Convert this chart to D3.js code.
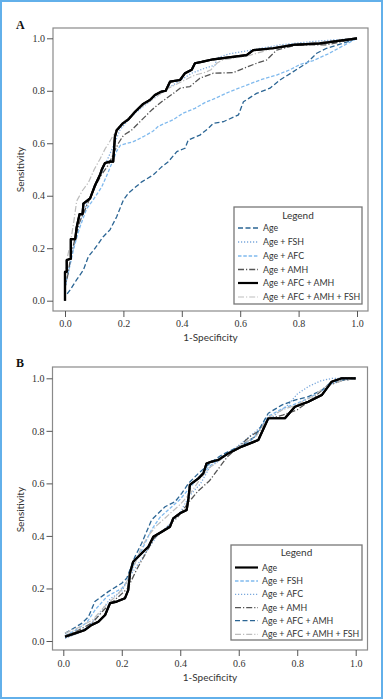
<!DOCTYPE html>
<html><head><meta charset="utf-8">
<script src="https://cdn.jsdelivr.net/npm/d3@7"></script>
<style>html,body{margin:0;padding:0;background:#fff;}svg{display:block;}</style>
</head><body>
<svg id="c" width="384" height="700"></svg>
<script>
// ---------- DATA ----------
const tickValues = [0, 0.2, 0.4, 0.6, 0.8, 1.0];
const tickLabels = ["0.0", "0.2", "0.4", "0.6", "0.8", "1.0"];
const xTitle = "1-Specificity";
const yTitle = "Sensitivity";
const legendTitle = "Legend";

// Panel A series: [1-specificity, sensitivity]
const seriesNamesA = ["Age", "Age + FSH", "Age + AFC", "Age + AMH", "Age + AFC + AMH", "Age + AFC + AMH + FSH"];
const aAge = [[0,0.0],[0,0.015],[0.017,0.04],[0.04,0.08],[0.063,0.117],[0.08,0.168],[0.103,0.2],[0.131,0.244],[0.154,0.27],[0.177,0.32],[0.2,0.384],[0.217,0.41],[0.263,0.453],[0.302,0.479],[0.331,0.51],[0.354,0.53],[0.383,0.568],[0.411,0.581],[0.422,0.612],[0.462,0.631],[0.491,0.657],[0.508,0.676],[0.542,0.682],[0.594,0.708],[0.611,0.758],[0.656,0.79],[0.702,0.81],[0.736,0.841],[0.782,0.873],[0.827,0.905],[0.862,0.943],[0.896,0.962],[0.953,0.981],[1,1]];
const aFSH = [[0,0],[0,0.06],[0.01,0.1],[0.025,0.18],[0.035,0.23],[0.045,0.27],[0.06,0.33],[0.075,0.37],[0.09,0.4],[0.11,0.45],[0.13,0.5],[0.15,0.55],[0.17,0.6],[0.188,0.65],[0.21,0.68],[0.245,0.72],[0.297,0.765],[0.343,0.803],[0.388,0.835],[0.434,0.867],[0.479,0.886],[0.514,0.898],[0.52,0.925],[0.56,0.94],[0.622,0.952],[0.736,0.975],[0.85,0.988],[1,1]];
const aAFC = [[0,0],[0,0.05],[0.011,0.105],[0.028,0.19],[0.04,0.24],[0.051,0.28],[0.074,0.35],[0.097,0.385],[0.126,0.434],[0.148,0.49],[0.165,0.536],[0.177,0.57],[0.19,0.593],[0.234,0.606],[0.268,0.625],[0.3,0.645],[0.32,0.665],[0.371,0.69],[0.405,0.715],[0.445,0.733],[0.479,0.755],[0.508,0.768],[0.565,0.797],[0.668,0.841],[0.725,0.86],[0.77,0.88],[0.805,0.9],[0.85,0.915],[0.9,0.94],[0.95,0.97],[1,1]];
const aAMH = [[0,0],[0,0.05],[0.01,0.1],[0.02,0.17],[0.035,0.24],[0.05,0.3],[0.07,0.35],[0.1,0.43],[0.125,0.48],[0.15,0.52],[0.17,0.57],[0.183,0.6],[0.2,0.63],[0.228,0.65],[0.263,0.689],[0.297,0.727],[0.331,0.758],[0.371,0.79],[0.394,0.81],[0.428,0.816],[0.462,0.848],[0.508,0.867],[0.576,0.869],[0.656,0.905],[0.69,0.917],[0.725,0.955],[0.793,0.975],[0.896,0.975],[1,1]];
const aAFCAMH = [[0,0],[0,0.11],[0.006,0.11],[0.006,0.155],[0.02,0.16],[0.02,0.235],[0.035,0.235],[0.04,0.28],[0.05,0.33],[0.06,0.33],[0.063,0.37],[0.086,0.39],[0.103,0.44],[0.12,0.48],[0.126,0.5],[0.137,0.525],[0.154,0.53],[0.165,0.53],[0.171,0.625],[0.177,0.65],[0.199,0.677],[0.216,0.69],[0.24,0.72],[0.268,0.75],[0.291,0.765],[0.308,0.784],[0.331,0.797],[0.345,0.8],[0.36,0.835],[0.394,0.841],[0.411,0.867],[0.434,0.88],[0.445,0.905],[0.468,0.91],[0.508,0.92],[0.622,0.936],[0.645,0.955],[0.713,0.962],[0.782,0.975],[0.873,0.981],[1,1]];
const aAll = [[0,0],[0,0.08],[0.006,0.155],[0.017,0.21],[0.03,0.3],[0.04,0.38],[0.06,0.42],[0.08,0.45],[0.1,0.5],[0.12,0.54],[0.138,0.58],[0.15,0.6],[0.165,0.63],[0.19,0.67],[0.22,0.7],[0.25,0.73],[0.31,0.775],[0.355,0.81],[0.4,0.835],[0.445,0.86],[0.48,0.87],[0.5,0.88],[0.52,0.905],[0.54,0.918],[0.622,0.932],[0.736,0.968],[0.85,0.981],[1,1]];

// Panel B series
const seriesNamesB = ["Age", "Age + FSH", "Age + AFC", "Age + AMH", "Age + AFC + AMH", "Age + AFC + AMH + FSH"];
const bAge = [[0.006,0.016],[0.04,0.029],[0.074,0.042],[0.097,0.061],[0.12,0.073],[0.143,0.099],[0.16,0.144],[0.183,0.15],[0.211,0.163],[0.222,0.194],[0.228,0.258],[0.239,0.302],[0.268,0.334],[0.291,0.359],[0.308,0.397],[0.337,0.416],[0.365,0.435],[0.376,0.467],[0.399,0.486],[0.422,0.499],[0.428,0.543],[0.433,0.594],[0.462,0.619],[0.479,0.638],[0.49,0.676],[0.508,0.683],[0.53,0.689],[0.564,0.714],[0.61,0.74],[0.667,0.765],[0.701,0.848],[0.758,0.848],[0.792,0.892],[0.838,0.911],[0.884,0.936],[0.918,0.987],[0.952,1.0],[1,1]];
const bFSH = [[0.006,0.02],[0.04,0.04],[0.08,0.07],[0.11,0.12],[0.15,0.17],[0.2,0.2],[0.22,0.23],[0.245,0.3],[0.27,0.35],[0.3,0.42],[0.33,0.47],[0.36,0.5],[0.4,0.54],[0.43,0.58],[0.46,0.62],[0.5,0.665],[0.54,0.7],[0.6,0.735],[0.65,0.77],[0.7,0.855],[0.75,0.885],[0.8,0.905],[0.84,0.925],[0.88,0.95],[0.92,0.98],[0.96,0.995],[1,1]];
const bAFC = [[0.006,0.01],[0.05,0.03],[0.09,0.06],[0.12,0.1],[0.16,0.16],[0.2,0.19],[0.23,0.25],[0.26,0.3],[0.29,0.35],[0.32,0.4],[0.36,0.44],[0.4,0.49],[0.43,0.55],[0.47,0.6],[0.5,0.66],[0.55,0.7],[0.6,0.745],[0.65,0.79],[0.7,0.84],[0.77,0.9],[0.8,0.94],[0.84,0.97],[0.88,0.99],[0.92,1.0],[1,1]];
const bAMH = [[0.006,0.02],[0.05,0.04],[0.1,0.07],[0.14,0.12],[0.18,0.16],[0.22,0.2],[0.25,0.27],[0.28,0.33],[0.31,0.39],[0.35,0.43],[0.39,0.47],[0.43,0.53],[0.46,0.57],[0.5,0.61],[0.53,0.655],[0.56,0.7],[0.6,0.74],[0.64,0.78],[0.67,0.8],[0.7,0.845],[0.75,0.86],[0.8,0.88],[0.85,0.92],[0.9,0.97],[0.95,0.99],[1,1]];
const bAFCAMH = [[0.006,0.029],[0.063,0.067],[0.086,0.092],[0.108,0.15],[0.154,0.188],[0.2,0.22],[0.217,0.239],[0.245,0.321],[0.268,0.372],[0.302,0.461],[0.348,0.511],[0.382,0.53],[0.405,0.562],[0.428,0.6],[0.462,0.638],[0.508,0.683],[0.542,0.708],[0.61,0.746],[0.656,0.778],[0.701,0.867],[0.747,0.898],[0.792,0.917],[0.838,0.93],[0.884,0.955],[0.918,0.987],[0.963,0.994],[1,1]];
const bAll = [[0.006,0.03],[0.05,0.05],[0.1,0.08],[0.14,0.13],[0.18,0.17],[0.21,0.21],[0.24,0.28],[0.265,0.35],[0.29,0.4],[0.32,0.44],[0.36,0.48],[0.4,0.52],[0.44,0.57],[0.47,0.62],[0.5,0.66],[0.55,0.7],[0.6,0.74],[0.66,0.78],[0.7,0.85],[0.75,0.88],[0.8,0.9],[0.85,0.93],[0.9,0.97],[0.95,0.99],[1,1]];

// ---------- STYLES ----------
const stDarkDash  = {color:"#2b6594", width:1.3, dash:"5,2.5"};
const stDotBlue   = {color:"#7aa8dc", width:1.3, dash:"1.2,1.8"};
const stLightDash = {color:"#80baee", width:1.3, dash:"3.5,1.8"};
const stGrayDD    = {color:"#555555", width:1.3, dash:"6,2,1.2,2"};
const stBlack     = {color:"#000000", width:2.2, dash:null};
const stLightDD   = {color:"#bdbdbd", width:1.2, dash:"6,2,1.2,2"};

const panels = [
  {label:"A", box:{x0:53, x1:368, y0:28, y1:311}, xr:[65,357], yr:[300.7,38.3],
   series:[aAge,aFSH,aAFC,aAMH,aAFCAMH,aAll], names:seriesNamesA,
   styles:[stDarkDash,stDotBlue,stLightDash,stGrayDD,stBlack,stLightDD],
   lab:{x:16, y:29}, xtl:326.5, xt:340.5, yt:20,
   legend:{x0:234, x1:362, y0:207, y1:304, title:219, rows:[228,242,256,269.5,283,297], lx0:238, lx1:258, tx:263}},
  {label:"B", box:{x0:52.5, x1:367.5, y0:367, y1:650}, xr:[63.3,355.7], yr:[641,378.3],
   series:[bAge,bFSH,bAFC,bAMH,bAFCAMH,bAll], names:seriesNamesB,
   styles:[stBlack,stLightDash,stDotBlue,stGrayDD,stDarkDash,stLightDD],
   lab:{x:16, y:367}, xtl:667, xt:680.5, yt:20,
   legend:{x0:231, x1:362, y0:545, y1:640, title:556, rows:[567.5,581,594.3,607.7,620.7,634.3], lx0:235, lx1:258, tx:262}}
];

const svg = d3.select("#c");
const sans = "Lato, 'Open Sans', 'DejaVu Sans', sans-serif";
const serif = "'Liberation Serif', 'DejaVu Serif', serif";

// outer frame
svg.append("rect").attr("x",1).attr("y",1).attr("width",381).attr("height",697)
  .attr("fill","none").attr("stroke","#62b0ea").attr("stroke-width",2);

panels.forEach(p => {
  const g = svg.append("g");
  const x = d3.scaleLinear().domain([0,1]).range(p.xr);
  const y = d3.scaleLinear().domain([0,1]).range(p.yr);

  // curves
  const line = d3.line().x(d=>x(d[0])).y(d=>y(d[1]));
  p.series.forEach((s,i)=>{
    const st = p.styles[i];
    g.append("path").datum(s).attr("d",line).attr("fill","none")
      .attr("stroke",st.color).attr("stroke-width",st.width)
      .attr("stroke-dasharray",st.dash).attr("stroke-linejoin","round");
  });
  // redraw the black curve on top
  p.series.forEach((s,i)=>{
    if (p.styles[i]===stBlack) {
      g.append("path").datum(s).attr("d",line).attr("fill","none")
        .attr("stroke","#000").attr("stroke-width",2.2).attr("stroke-linejoin","round");
    }
  });

  // box
  g.append("rect").attr("x",p.box.x0).attr("y",p.box.y0)
    .attr("width",p.box.x1-p.box.x0).attr("height",p.box.y1-p.box.y0)
    .attr("fill","none").attr("stroke","#8a8a8a").attr("stroke-width",1.2);

  // axes
  const ax = d3.axisBottom(x).tickValues(tickValues).tickSize(6).tickPadding(3)
    .tickFormat((d,i)=>tickLabels[i]);
  const gx = g.append("g").attr("transform",`translate(0,${p.box.y1})`).call(ax);
  const ay = d3.axisLeft(y).tickValues(tickValues).tickSize(6).tickPadding(2)
    .tickFormat((d,i)=>tickLabels[i]);
  const gy = g.append("g").attr("transform",`translate(${p.box.x0},0)`).call(ay);
  [gx,gy].forEach(a=>{
    a.select(".domain").remove();
    a.selectAll(".tick line").attr("stroke","#555").attr("stroke-width",1);
    a.selectAll(".tick text").attr("fill","#333").style("font-family",serif).style("font-size","10px");
  });
  gx.selectAll(".tick text").attr("y", p.xtl - p.box.y1).attr("dy",0);

  // titles
  g.append("text").attr("x",(p.box.x0+p.box.x1)/2).attr("y",p.xt)
    .attr("text-anchor","middle").attr("fill","#333").style("font-family",sans).style("font-size","10px").text(xTitle);
  g.append("text").attr("transform",`translate(${p.yt+4},${(p.yr[0]+p.yr[1])/2}) rotate(-90)`)
    .attr("text-anchor","middle").attr("fill","#333").style("font-family",sans).style("font-size","10px").text(yTitle);
  g.append("text").attr("x",p.lab.x).attr("y",p.lab.y).attr("fill","#111")
    .style("font-family",serif).style("font-weight","bold").style("font-size","12px").text(p.label);

  // legend
  const L = p.legend;
  g.append("rect").attr("x",L.x0).attr("y",L.y0).attr("width",L.x1-L.x0).attr("height",L.y1-L.y0)
    .attr("fill","#fff").attr("stroke","#777").attr("stroke-width",1.3);
  g.append("text").attr("x",(L.x0+L.x1)/2).attr("y",L.title).attr("text-anchor","middle")
    .attr("fill","#333").style("font-family",sans).style("font-size","10px").text(legendTitle);
  p.names.forEach((n,i)=>{
    const st = p.styles[i];
    g.append("line").attr("x1",L.lx0).attr("x2",L.lx1).attr("y1",L.rows[i]).attr("y2",L.rows[i])
      .attr("stroke",st.color).attr("stroke-width",st.width).attr("stroke-dasharray",st.dash);
    g.append("text").attr("x",L.tx).attr("y",L.rows[i]).attr("dy","0.35em")
      .attr("fill","#333").style("font-family",sans).style("font-size","8.8px").text(n);
  });
});
</script>
</body></html>
